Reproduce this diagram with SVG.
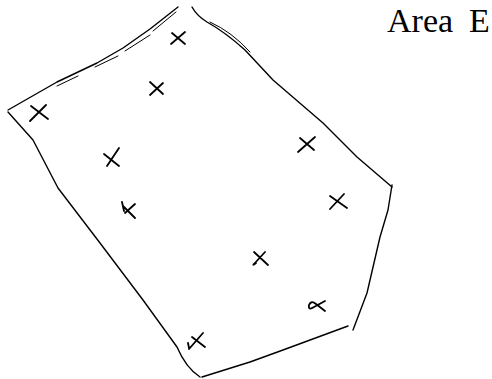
<svg xmlns="http://www.w3.org/2000/svg" width="492" height="379" viewBox="0 0 492 379">
<style>
.ln{fill:none;stroke:#000;stroke-width:1.4;stroke-linecap:round;stroke-linejoin:round}
.ln2{fill:none;stroke:#000;stroke-width:1;stroke-linecap:round}
.x{fill:none;stroke:#000;stroke-width:1.8;stroke-linecap:round;stroke-linejoin:round}
.lbl{font-family:"Liberation Serif",serif;font-size:34px;fill:#000}
</style>
<rect width="492" height="379" fill="#fff"/>
<g id="outline">
<path class="ln" d="M8,110 L57,82 L97,63 L123,48 L150,29 L178,7"/>
<path class="ln2" d="M57,86 L78,76 M95,67 L118,56 M125,51 L150,35 M153,31 L176,12"/>
<path class="ln" d="M8,112 L33,140 L58,188 L100,243 L143,300 L177,347 Q186,368 200,377"/>
<path class="ln" d="M202,377 L250,362 L283,350 L348,326"/>
<path class="ln" d="M353,330 L367,293 L380,237 L388,210 L392,185"/>
<path class="ln" d="M192,7 Q197,16 207,22 Q225,32 245,50 L273,80 L323,123 L357,157 L392,187"/>
<path class="ln2" d="M210,22 Q232,32 250,52"/>
</g>
<g id="marks">
<path class="x" d="M172,33 L185,44 M185,32 L171,44"/>
<path class="x" d="M150,82 L163,94 M163,83 L150,95"/>
<path class="x" d="M31,106 L48,119 M46,105 L30,121"/>
<path class="x" d="M104,154 L119,166 M119,148 L107,166"/>
<path class="x" d="M300,138 L314,150 M315,137 L298,152"/>
<path class="x" d="M123,206 L135,218 M135,204 L125,213 M122,202 L124,211"/>
<path class="x" d="M192,337 L205,347 M203,333 L189,349 M188,343 L189,348"/>
<path class="x" d="M330,196 L347,208 M344,194 L330,209"/>
<path class="x" d="M254,252 L268,265 M265,252 L254,264 Q252,266 256,263"/>
<path class="x" d="M325,301 L314,307 Q308,311 309,305 Q311,300 316,304 L325,311"/>
</g>
<g id="label">
<text class="lbl" x="387" y="32">Area <tspan x="469">E</tspan></text>
</g>
</svg>
